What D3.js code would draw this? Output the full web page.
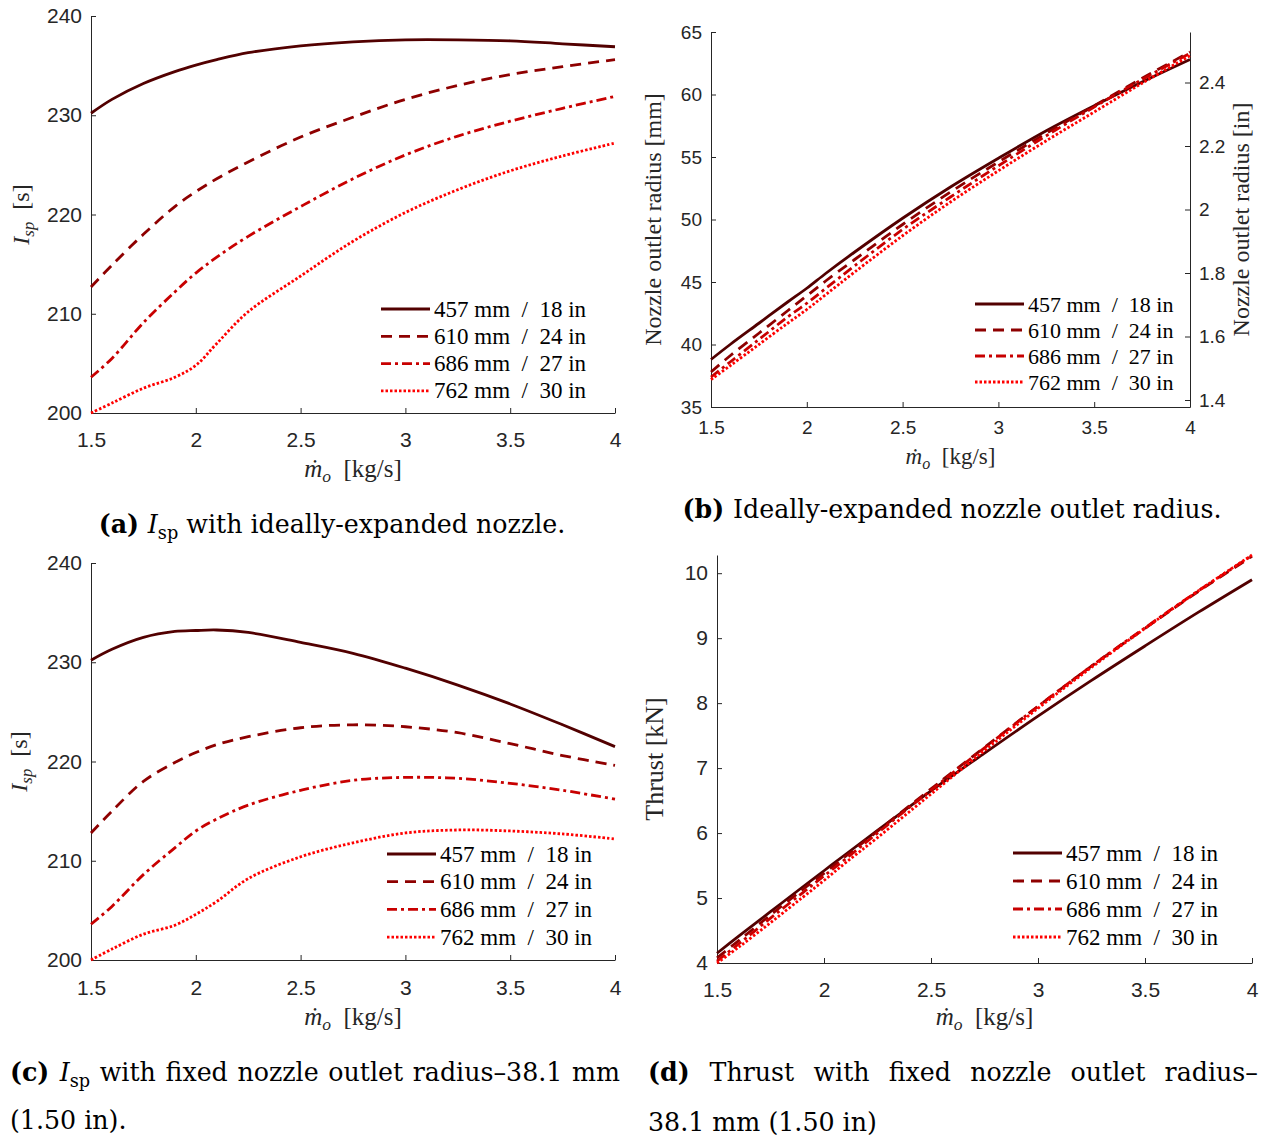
<!DOCTYPE html>
<html>
<head>
<meta charset="utf-8">
<script src="https://cdn.jsdelivr.net/npm/d3@7"></script>
<style>
  body { margin: 0; background: #fff; }
  svg { display: block; }
  .tick text { font-family: "Liberation Sans", Arial, sans-serif; fill: #262626; }
  .domain, .tick line { stroke: #262626; stroke-width: 1; }
</style>
</head>
<body>
<div id="chart"></div>
<script>
// mass flow grid (kg/s), shared by all four panels
const massFlow = [1.5, 1.6, 1.75, 1.9, 2.0, 2.1, 2.25, 2.5, 2.75, 3.0, 3.25, 3.5, 3.75, 4.0];
const xTicks = [1.5, 2, 2.5, 3, 3.5, 4];
const seriesNames = ['457 mm / 18 in', '610 mm / 24 in', '686 mm / 27 in', '762 mm / 30 in'];
const seriesColors = ['#520000', '#8e0000', '#c80000', '#ff0000'];
const seriesDash = [null, '11,7', '10,4,3,4', '2.5,2'];

// (a) Isp, ideally expanded nozzle [s]
const ispIdeal = [
  [230.2, 231.6, 233.2, 234.4, 235.05, 235.6, 236.3, 237.0, 237.4, 237.6, 237.6, 237.5, 237.2, 236.9],
  [212.7, 214.9, 218.0, 220.8, 222.3, 223.6, 225.3, 227.8, 229.8, 231.6, 233.0, 234.1, 234.9, 235.6],
  [203.6, 205.5, 209.1, 212.2, 214.1, 215.7, 217.8, 220.8, 223.6, 226.0, 227.9, 229.4, 230.7, 231.9],
  [200.0, 201.0, 202.5, 203.6, 204.8, 207.0, 210.2, 213.8, 217.3, 220.2, 222.5, 224.4, 225.9, 227.2]
];
// (b) ideally expanded nozzle outlet radius [mm]
const outletRadius = [
  [38.8, 40.0, 41.7, 43.4, 44.5, 45.7, 47.4, 50.1, 52.6, 54.9, 57.1, 59.1, 61.0, 62.8],
  [37.8, 39.1, 40.9, 42.7, 43.9, 45.1, 46.8, 49.6, 52.2, 54.6, 56.9, 59.1, 61.3, 63.4],
  [37.4, 38.6, 40.4, 42.2, 43.3, 44.5, 46.3, 49.2, 51.8, 54.3, 56.7, 59.0, 61.2, 63.3],
  [37.2, 38.3, 40.0, 41.7, 42.8, 44.0, 45.8, 48.7, 51.4, 53.9, 56.3, 58.6, 60.9, 63.1]
];
// (c) Isp, fixed nozzle outlet radius [s]
const ispFixed = [
  [230.2, 231.3, 232.5, 233.1, 233.2, 233.25, 233.0, 232.0, 230.9, 229.4, 227.7, 225.8, 223.7, 221.5],
  [212.8, 215.0, 218.0, 219.9, 220.9, 221.7, 222.5, 223.4, 223.7, 223.5, 222.9, 221.8, 220.6, 219.6],
  [203.6, 205.4, 208.6, 211.3, 213.0, 214.2, 215.6, 217.1, 218.1, 218.4, 218.3, 217.8, 217.1, 216.2],
  [200.0, 201.1, 202.6, 203.5, 204.6, 205.9, 208.2, 210.4, 211.8, 212.8, 213.1, 213.0, 212.7, 212.2]
];
// (d) thrust, fixed nozzle outlet radius [kN]
const thrustFixed = [
  [4.15, 4.41, 4.79, 5.17, 5.42, 5.67, 6.04, 6.65, 7.23, 7.80, 8.35, 8.88, 9.40, 9.90],
  [4.08, 4.34, 4.74, 5.13, 5.38, 5.64, 6.03, 6.68, 7.32, 7.95, 8.57, 9.15, 9.72, 10.26],
  [4.03, 4.29, 4.69, 5.08, 5.34, 5.60, 6.00, 6.66, 7.31, 7.95, 8.57, 9.16, 9.73, 10.27],
  [4.00, 4.24, 4.62, 5.01, 5.27, 5.54, 5.93, 6.60, 7.27, 7.92, 8.55, 9.15, 9.73, 10.28]
];

const serif = '"Liberation Serif", "Times New Roman", serif';
const capSerif = '"DejaVu Serif", serif';
const svg = d3.select('#chart').append('svg').attr('width', 1265).attr('height', 1139);

function addIspLabel(g, x, y, size) {
  const t = g.append('text').attr('transform', `translate(${x},${y}) rotate(-90)`)
    .attr('text-anchor', 'middle').style('font-family', serif).style('font-size', size + 'px').style('fill', '#262626');
  t.append('tspan').style('font-style', 'italic').text('I');
  t.append('tspan').style('font-style', 'italic').style('font-size', (size * 0.7) + 'px').attr('dy', 5).text('sp');
  t.append('tspan').attr('dy', -5).text('\u2002[s]');
}

function addMdotLabel(g, x, y, size) {
  const t = g.append('text').attr('x', x).attr('y', y)
    .attr('text-anchor', 'middle').style('font-family', serif).style('font-size', size + 'px').style('fill', '#262626');
  t.append('tspan').style('font-style', 'italic').text('\u1E41');
  t.append('tspan').style('font-style', 'italic').style('font-size', (size * 0.7) + 'px').attr('dy', 5).text('o');
  t.append('tspan').attr('dy', -5).text('\u2002[kg/s]');
}

function drawPanel(p) {
  const g = svg.append('g');
  const x = d3.scaleLinear().domain([1.5, 4]).range([p.left, p.right]);
  const y = d3.scaleLinear().domain(p.yDomain).range([p.bottom, p.top]);

  const xAxis = g.append('g').attr('transform', `translate(0,${p.bottom})`)
    .call(d3.axisBottom(x).tickValues(xTicks).tickFormat(d3.format('~g'))
      .tickSizeInner(-5).tickSizeOuter(0).tickPadding(p.xPad));
  const yAxis = g.append('g').attr('transform', `translate(${p.left},0)`)
    .call(d3.axisLeft(y).tickValues(p.yTicks).tickFormat(d3.format('~g'))
      .tickSizeInner(-5).tickSizeOuter(0).tickPadding(9));
  xAxis.selectAll('text').style('font-size', p.tickSize + 'px');
  yAxis.selectAll('text').style('font-size', p.tickSize + 'px');

  if (p.rightAxis) {
    const yIn = d3.scaleLinear().domain(p.yDomain.map(v => v / 25.4)).range([p.bottom, p.top]);
    g.append('g').attr('transform', `translate(${p.right},0)`)
      .call(d3.axisRight(yIn).tickValues([1.4, 1.6, 1.8, 2, 2.2, 2.4]).tickFormat(d3.format('~g'))
        .tickSizeInner(-5).tickSizeOuter(0).tickPadding(9))
      .selectAll('text').style('font-size', p.tickSize + 'px');
  }

  const line = d3.line().x((d, i) => x(massFlow[i])).y(d => y(d)).curve(d3.curveCatmullRom.alpha(0.5));
  p.data.forEach((vals, k) => {
    g.append('path').datum(vals).attr('d', line)
      .attr('fill', 'none').attr('stroke', seriesColors[k]).attr('stroke-width', 2.8)
      .attr('stroke-dasharray', seriesDash[k]);
  });

  // legend
  seriesNames.forEach((name, k) => {
    const ly = p.legend.y + k * p.legend.dy;
    g.append('line').attr('x1', p.legend.x).attr('x2', p.legend.x + 49).attr('y1', ly).attr('y2', ly)
      .attr('stroke', seriesColors[k]).attr('stroke-width', 2.8).attr('stroke-dasharray', seriesDash[k]);
    g.append('text').attr('x', p.legend.x + 53).attr('y', ly + 7.5)
      .style('font-family', serif).style('font-size', p.legend.size + 'px').style('fill', '#000')
      .attr('xml:space', 'preserve').text(name.replace(/ \/ /, '  /  '));
  });

  // axis titles
  addMdotLabel(g, (p.left + p.right) / 2, p.bottom + p.xLabelOff, p.xLabelSize);
  if (p.yLabel === 'isp') {
    addIspLabel(g, p.yLabelX, (p.top + p.bottom) / 2, 24);
  } else {
    g.append('text').attr('transform', `translate(${p.yLabelX},${(p.top + p.bottom) / 2}) rotate(-90)`)
      .attr('text-anchor', 'middle').style('font-family', serif).style('font-size', p.yLabelSize + 'px')
      .style('fill', '#262626').text(p.yLabel);
  }
  if (p.rightLabel) {
    g.append('text').attr('transform', `translate(${p.rightLabelX},${(p.top + p.bottom) / 2}) rotate(-90)`)
      .attr('text-anchor', 'middle').style('font-family', serif).style('font-size', p.yLabelSize + 'px')
      .style('fill', '#262626').text(p.rightLabel);
  }
}

drawPanel({ left: 91, right: 615, top: 16, bottom: 413, yDomain: [200, 240], yTicks: [200, 210, 220, 230, 240],
  data: ispIdeal, tickSize: 21, xPad: 19, xLabelOff: 64, xLabelSize: 25,
  legend: { x: 381, y: 309, dy: 27.3, size: 23 }, yLabel: 'isp', yLabelX: 29 });
drawPanel({ left: 711, right: 1190, top: 32, bottom: 407, yDomain: [35, 65], yTicks: [35, 40, 45, 50, 55, 60, 65],
  data: outletRadius, tickSize: 19, xPad: 14, xLabelOff: 57, xLabelSize: 23,
  legend: { x: 975, y: 304, dy: 26, size: 22 }, yLabel: 'Nozzle outlet radius [mm]', yLabelX: 661, yLabelSize: 24,
  rightAxis: true, rightLabel: 'Nozzle outlet radius [in]', rightLabelX: 1249 });
drawPanel({ left: 91, right: 615, top: 563, bottom: 960, yDomain: [200, 240], yTicks: [200, 210, 220, 230, 240],
  data: ispFixed, tickSize: 21, xPad: 20, xLabelOff: 65, xLabelSize: 25,
  legend: { x: 387, y: 854, dy: 27.7, size: 23 }, yLabel: 'isp', yLabelX: 27 });
drawPanel({ left: 717, right: 1252, top: 555, bottom: 963, yDomain: [4, 10.28], yTicks: [4, 5, 6, 7, 8, 9, 10],
  data: thrustFixed, tickSize: 21, xPad: 19, xLabelOff: 62, xLabelSize: 25,
  legend: { x: 1013, y: 853, dy: 28, size: 23 }, yLabel: 'Thrust [kN]', yLabelX: 663, yLabelSize: 26 });

// sub-figure captions
function caption(x, y, parts, anchor) {
  const t = svg.append('text').attr('x', x).attr('y', y).attr('text-anchor', anchor || 'start')
    .style('font-family', capSerif).style('font-size', '24px').style('fill', '#000');
  parts.forEach(pt => {
    const s = t.append('tspan').text(pt.t);
    if (pt.b) s.style('font-weight', 'bold');
    if (pt.i) s.style('font-style', 'italic');
    if (pt.sub) s.classed('sub', true).attr('dy', 6);
    if (pt.up) s.attr('dy', -6);
  });
  return t;
}
const caps = [
  caption(332, 533, [{ t: '(a) ', b: true }, { t: 'I', i: true }, { t: 'sp', sub: true }, { t: ' with ideally-expanded nozzle.', up: true }], 'middle'),
  caption(952, 518, [{ t: '(b) ', b: true }, { t: 'Ideally-expanded nozzle outlet radius.' }], 'middle'),
  caption(10, 1081, [{ t: '(c) ', b: true }, { t: 'I', i: true }, { t: 'sp', sub: true }, { t: ' with fixed nozzle outlet radius\u201338.1 mm', up: true }]),
  caption(10, 1129, [{ t: '(1.50 in).' }]),
  caption(648, 1081, [{ t: '(d) ', b: true }, { t: 'Thrust with fixed nozzle outlet radius\u2013' }]),
  caption(648, 1131, [{ t: '38.1 mm (1.50 in)' }])
];
// fit caption size to the width of caption (b), then justify the two full lines
const capSize = 24 * 539 / caps[1].node().getComputedTextLength();
caps.forEach(t => t.style('font-size', capSize + 'px'));
svg.selectAll('tspan.sub').style('font-size', (capSize * 0.7) + 'px');
[caps[2], caps[4]].forEach(t => {
  const gaps = t.text().split(' ').length - 1;
  const w = t.node().getComputedTextLength();
  t.attr('word-spacing', Math.max(0, (610 - w) / gaps));
});
</script>
</body>
</html>
